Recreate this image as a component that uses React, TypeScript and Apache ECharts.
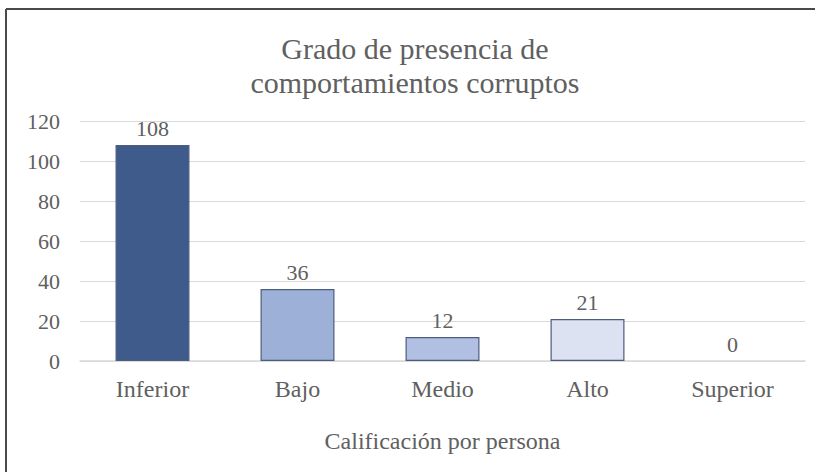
import React, { useEffect, useRef } from "react";
import * as echarts from "echarts";

const categories = ["Inferior", "Bajo", "Medio", "Alto", "Superior"];
const values = [108, 36, 12, 21, 0];
const barColors = ["#3E5B8C", "#9DB1D8", "#B0BFE2", "#DCE2F1", "#E8ECF6"];
const titleText = "Grado de presencia de\ncomportamientos corruptos";
const xAxisName = "Calificación por persona";

export default function App() {
  const ref = useRef<HTMLDivElement>(null);
  useEffect(() => {
    if (!ref.current) return;
    const chart = echarts.init(ref.current, undefined, { renderer: "svg" });
    const font = "Liberation Serif";
    const txt = "#606060";
    chart.setOption({
      animation: false,
      backgroundColor: "#ffffff",
      textStyle: { fontFamily: font },
      title: {
        text: titleText,
        left: 410,
        textAlign: "center",
        top: 26,
        textStyle: {
          fontFamily: font,
          fontSize: 30,
          fontWeight: "normal",
          color: txt,
          lineHeight: 34,
        },
      },
      grid: { left: 80, right: 10, top: 121, bottom: 111, containLabel: false },
      xAxis: {
        type: "category",
        data: categories,
        name: xAxisName,
        nameLocation: "middle",
        nameGap: 68,
        nameTextStyle: { fontFamily: font, fontSize: 24, color: txt },
        axisLine: { show: true, lineStyle: { color: "#d9d9d9", width: 1.5 } },
        axisTick: { show: false },
        axisLabel: { fontFamily: font, fontSize: 24, color: txt, margin: 16 },
      },
      yAxis: {
        type: "value",
        min: 0,
        max: 120,
        interval: 20,
        axisLine: { show: false },
        axisTick: { show: false },
        axisLabel: { fontFamily: font, fontSize: 22, color: txt, margin: 20 },
        splitLine: { lineStyle: { color: "#d9d9d9", width: 1 } },
      },
      series: [
        {
          type: "bar",
          barWidth: "51%",
          data: values.map((v, i) => ({
            value: v,
            itemStyle: {
              color: barColors[i],
              borderColor: "#4d5d7d",
              borderWidth: v > 0 ? 1.2 : 0,
            },
          })),
          label: {
            show: true,
            position: "top",
            distance: 6,
            fontFamily: font,
            fontSize: 22,
            color: txt,
          },
        },
      ],
      graphic: [
        {
          type: "line",
          shape: { x1: 6, y1: 9, x2: 815, y2: 9 },
          style: { stroke: "#4a4a4a", lineWidth: 2 },
        },
        {
          type: "line",
          shape: { x1: 6, y1: 9, x2: 6, y2: 472 },
          style: { stroke: "#4a4a4a", lineWidth: 2 },
        },
      ],
    });
    return () => chart.dispose();
  }, []);
  return (
    <div
      ref={ref}
      style={{ position: "fixed", left: 0, top: 0, width: 815, height: 472 }}
    />
  );
}
